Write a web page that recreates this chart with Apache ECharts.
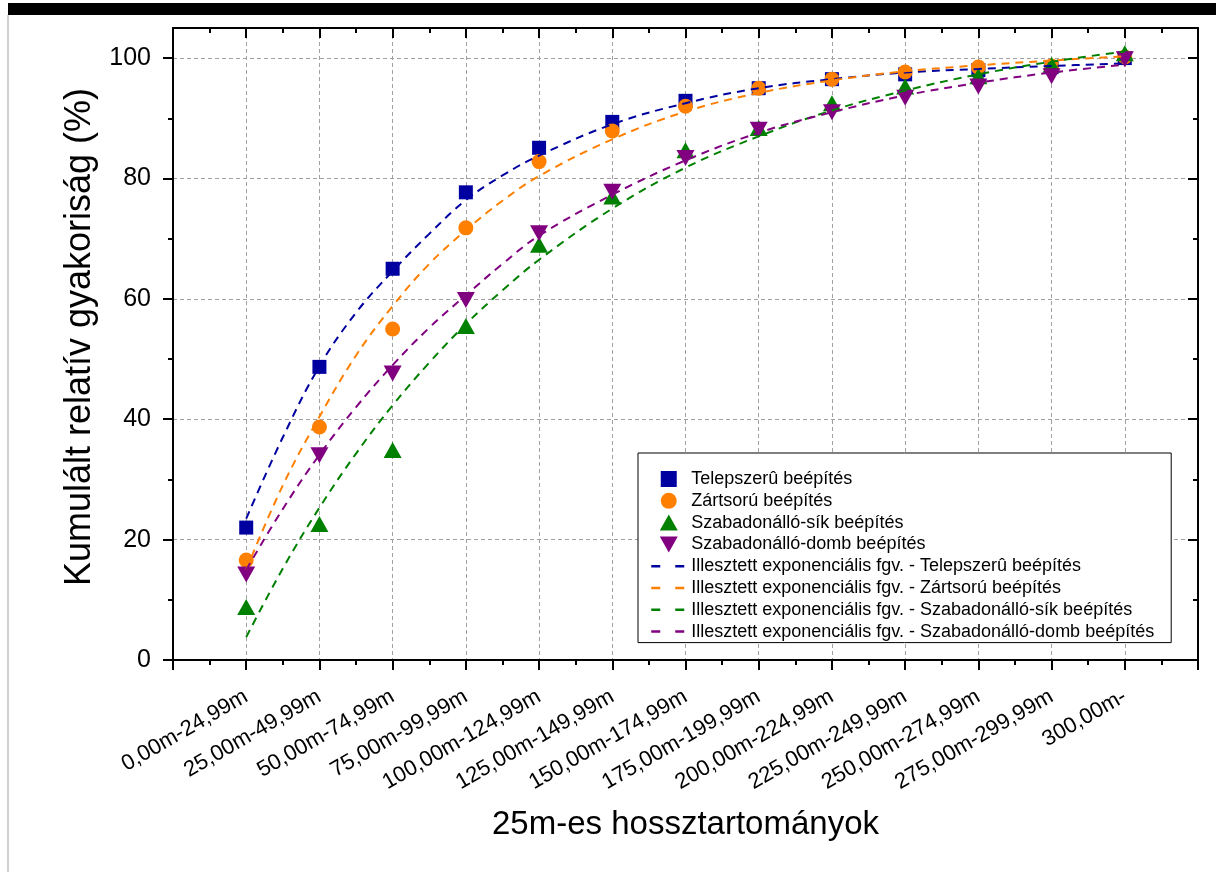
<!DOCTYPE html>
<html>
<head>
<meta charset="utf-8">
<script src="https://cdn.jsdelivr.net/npm/echarts@6/dist/echarts.min.js"></script>
<style>
  html, body { margin: 0; padding: 0; background: #fff; }
  #chart { width: 1216px; height: 872px; }
</style>
</head>
<body>
<div id="chart"></div>
<script>
// kategóriák (x tengely)
const categories = [
  '0,00m-24,99m', '25,00m-49,99m', '50,00m-74,99m', '75,00m-99,99m',
  '100,00m-124,99m', '125,00m-149,99m', '150,00m-174,99m', '175,00m-199,99m',
  '200,00m-224,99m', '225,00m-249,99m', '250,00m-274,99m', '275,00m-299,99m', '300,00m-'
];
const yTicks = [0, 20, 40, 60, 80, 100];

// mért pontok (%)
const telepszeru = [22.0, 48.7, 65.0, 77.7, 85.1, 89.4, 92.9, 95.0, 96.5, 97.3, 98.0, 98.5, 100.0];
const zartsoru = [16.6, 38.7, 55.0, 71.8, 82.8, 87.9, 92.0, 95.0, 96.5, 97.7, 98.5, 98.7, 100.2];
const szabadSik = [8.8, 22.6, 34.9, 55.5, 69.0, 77.0, 84.7, 88.4, 92.5, 95.3, 97.0, 98.9, 100.8];
const szabadDomb = [14.2, 34.0, 47.6, 59.8, 70.9, 77.8, 83.4, 88.1, 91.0, 93.4, 95.3, 97.0, 99.8];

// illesztett görbék
const fitX = [0, 0.5, 1, 1.5, 2, 2.5, 3, 3.5, 4, 5, 6, 7, 8, 9, 10, 11, 12];
const fitTelepszeru = [23.5, 37.0, 48.8, 57.7, 64.6, 70.8, 76.4, 80.5, 83.8, 89.0, 92.5, 95.0, 96.5, 97.6, 98.2, 98.7, 99.1];
const fitZartsoru = [15.0, 29.0, 40.4, 50.6, 58.8, 65.8, 71.4, 76.3, 80.4, 86.5, 91.1, 94.2, 96.3, 97.8, 98.8, 99.6, 100.3];
const fitSzabadSik = [3.8, 15.2, 25.3, 34.3, 42.3, 49.4, 55.8, 61.4, 66.5, 75.0, 81.8, 87.0, 91.3, 94.6, 97.3, 99.4, 101.1];
const fitSzabadDomb = [15.0, 25.1, 34.1, 42.0, 49.0, 55.2, 60.6, 65.8, 70.5, 77.3, 83.0, 87.6, 91.0, 93.8, 95.9, 97.6, 98.9];

const names = ['Telepszerû beépítés', 'Zártsorú beépítés', 'Szabadonálló-sík beépítés', 'Szabadonálló-domb beépítés'];
const colors = ['#0000a0', '#ff8000', '#008000', '#800080'];
const fontFamily = '"Liberation Sans", Arial, sans-serif';

const points = [telepszeru, zartsoru, szabadSik, szabadDomb];
const fits = [fitTelepszeru, fitZartsoru, fitSzabadSik, fitSzabadDomb];
const symbols = [
  { symbol: 'rect', symbolSize: 14, symbolRotate: 0, icon: 'path://M0,0L10,0L10,10L0,10Z' },
  { symbol: 'circle', symbolSize: 15, symbolRotate: 0, icon: 'circle' },
  { symbol: 'triangle', symbolSize: [18, 16], symbolRotate: 0, icon: 'path://M9,0L18,16L0,16Z' },
  { symbol: 'triangle', symbolSize: [18, 16], symbolRotate: 180, icon: 'path://M0,0L18,0L9,16Z' }
];

const gridLine = { show: true, lineStyle: { color: '#a0a0a0', type: [4, 3], width: 1 } };
const axisLine = { show: true, onZero: false, lineStyle: { color: '#000', width: 2 } };
const tickStyle = { color: '#000', width: 2 };

const scatterSeries = points.map((arr, i) => ({
  name: names[i],
  type: 'scatter',
  symbol: symbols[i].symbol,
  symbolSize: symbols[i].symbolSize,
  symbolRotate: symbols[i].symbolRotate,
  itemStyle: { color: colors[i], opacity: 1 },
  data: arr.map((v, j) => [j, v]),
  z: 3
}));

const fitSeries = fits.map((arr, i) => ({
  name: 'Illesztett exponenciális fgv. - ' + names[i],
  type: 'line',
  smooth: 0.4,
  symbol: 'none',
  lineStyle: { color: colors[i], width: 2, type: [8, 6] },
  itemStyle: { color: colors[i] },
  data: arr.map((v, j) => [fitX[j], v]),
  z: 4
}));

// jelmagyarázat: a görbéknél csak a szaggatott vonal látszik
const legendData = scatterSeries.map((s, i) => ({ name: s.name, icon: symbols[i].icon }))
  .concat(fitSeries.map(s => ({ name: s.name, itemStyle: { opacity: 0 } })));

const chart = echarts.init(document.getElementById('chart'));
chart.setOption({
  backgroundColor: '#fff',
  animation: false,
  textStyle: { fontFamily },
  grid: { left: 173, right: 18, top: 28, bottom: 212 },
  legend: {
    orient: 'vertical',
    left: 638,
    top: 453,
    padding: [17, 17, 2, 12],
    itemWidth: 35,
    itemHeight: 16,
    itemGap: 3.8,
    symbolKeepAspect: true,
    borderColor: '#000',
    borderWidth: 1,
    backgroundColor: '#fff',
    lineStyle: { type: [9, 15], width: 2.5 },
    textStyle: { fontSize: 18, color: '#000', fontFamily },
    data: legendData
  },
  graphic: [
    { type: 'rect', shape: { x: 8, y: 3, width: 1208, height: 12 }, style: { fill: '#000' } },
    { type: 'rect', shape: { x: 7, y: 15, width: 2, height: 857 }, style: { fill: '#d0d0d0' } }
  ],
  xAxis: [
    {
      type: 'value',
      min: -1,
      max: 13,
      interval: 1,
      position: 'bottom',
      name: '25m-es hossztartományok',
      nameLocation: 'middle',
      nameGap: 148,
      nameTextStyle: { fontSize: 33, color: '#000', fontFamily },
      axisLine,
      axisTick: { show: true, inside: false, length: 10, lineStyle: tickStyle },
      minorTick: { show: true, splitNumber: 2, length: 5, lineStyle: tickStyle },
      axisLabel: {
        rotate: 30,
        margin: 35,
        fontSize: 22,
        color: '#000',
        fontFamily,
        showMinLabel: true,
        showMaxLabel: true,
        formatter: v => (v >= 0 && v < categories.length ? categories[v] : '')
      },
      splitLine: gridLine
    },
    {
      type: 'value',
      min: -1,
      max: 13,
      interval: 1,
      position: 'top',
      axisLine,
      axisTick: { show: true, inside: true, length: 10, lineStyle: tickStyle },
      minorTick: { show: true, splitNumber: 2, length: 5, lineStyle: tickStyle },
      axisLabel: { show: false },
      splitLine: { show: false }
    }
  ],
  yAxis: [
    {
      type: 'value',
      min: 0,
      max: 105,
      interval: 20,
      position: 'left',
      name: 'Kumulált relatív gyakoriság (%)',
      nameLocation: 'middle',
      nameGap: 72,
      nameTextStyle: { fontSize: 36, color: '#000', fontFamily, padding: [0, 0, 0, 14] },
      axisLine,
      axisTick: { show: true, inside: false, length: 10, customValues: yTicks, lineStyle: tickStyle },
      minorTick: { show: true, splitNumber: 2, length: 5, lineStyle: tickStyle },
      axisLabel: { fontSize: 25, color: '#000', margin: 22, fontFamily, customValues: yTicks },
      splitLine: gridLine
    },
    {
      type: 'value',
      min: 0,
      max: 105,
      interval: 20,
      position: 'right',
      axisLine,
      axisTick: { show: true, inside: true, length: 10, customValues: yTicks, lineStyle: tickStyle },
      minorTick: { show: true, splitNumber: 2, length: 5, lineStyle: tickStyle },
      axisLabel: { show: false },
      splitLine: { show: false }
    }
  ],
  series: scatterSeries.concat(fitSeries)
});
</script>
</body>
</html>
